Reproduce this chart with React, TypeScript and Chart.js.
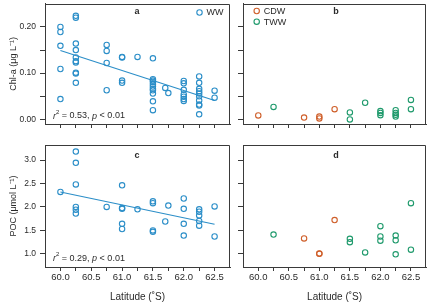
import React, { useEffect, useRef } from "react";
import { Chart, registerables } from "chart.js";

Chart.register(...registerables);

// ---- Winter Water (WW) stations: Chl-a ----
const wwChlLat = [
  60.0, 60.0, 60.0, 60.0, 60.0,
  60.25, 60.25, 60.25, 60.25, 60.25, 60.25, 60.25, 60.25, 60.25, 60.25,
  60.75, 60.75, 60.75, 60.75,
  61.0, 61.0, 61.0, 61.0,
  61.25,
  61.5, 61.5, 61.5, 61.5, 61.5, 61.5, 61.5, 61.5, 61.5, 61.5, 61.5,
  61.7, 61.75,
  62.0, 62.0, 62.0, 62.0, 62.0, 62.0, 62.0,
  62.25, 62.25, 62.25, 62.25, 62.25, 62.25, 62.25, 62.25, 62.25, 62.25,
  62.5, 62.5,
];
const wwChl = [
  0.2, 0.189, 0.159, 0.109, 0.044,
  0.224, 0.22, 0.164, 0.15, 0.134, 0.126, 0.123, 0.101, 0.099, 0.079,
  0.161, 0.148, 0.122, 0.063,
  0.135, 0.134, 0.084, 0.079,
  0.135,
  0.132, 0.087, 0.084, 0.081, 0.076, 0.071, 0.066, 0.063, 0.056, 0.039, 0.02,
  0.068, 0.057,
  0.083, 0.078, 0.064, 0.054, 0.049, 0.044, 0.04,
  0.093, 0.079, 0.066, 0.061, 0.056, 0.05, 0.041, 0.032, 0.03, 0.011,
  0.062, 0.047,
];

// ---- WW stations: POC ----
const wwPocLat = [
  60.0,
  60.25, 60.25, 60.25, 60.25, 60.25, 60.25,
  60.75,
  61.0, 61.0, 61.0, 61.0, 61.0,
  61.25,
  61.5, 61.5, 61.5, 61.5,
  61.7, 61.75,
  62.0, 62.0, 62.0, 62.0,
  62.25, 62.25, 62.25, 62.25, 62.25,
  62.5, 62.5,
];
const wwPoc = [
  2.32,
  3.18, 2.94, 2.48, 2.0, 1.94, 1.86,
  2.0,
  2.46, 1.975, 1.96, 1.64, 1.53,
  1.95,
  2.12, 2.08, 1.5, 1.47,
  1.69, 2.03,
  2.18, 1.96, 1.64, 1.39,
  1.95, 1.9, 1.82, 1.7, 1.6,
  2.01, 1.37,
];

// ---- Circumpolar Deep Water (CDW) stations ----
const cdwChlLat = [60.0, 60.75, 61.0, 61.0, 61.25];
const cdwChl = [0.0086, 0.004, 0.006, 0.002, 0.022];
const cdwPocLat = [60.75, 61.0, 61.0, 61.25];
const cdwPoc = [1.33, 1.01, 1.0, 1.72];

// ---- Transitional Weddell Water (TWW) stations ----
const twwChlLat = [
  60.25, 61.5, 61.5, 61.75, 62.0, 62.0, 62.0,
  62.25, 62.25, 62.25, 62.25, 62.5, 62.5,
];
const twwChl = [
  0.027, 0.015, 0.0, 0.036, 0.018, 0.014, 0.009,
  0.02, 0.014, 0.01, 0.006, 0.042, 0.022,
];
const twwPocLat = [
  60.25, 61.5, 61.5, 61.75, 62.0, 62.0, 62.0,
  62.25, 62.25, 62.25, 62.5, 62.5,
];
const twwPoc = [
  1.41, 1.32, 1.25, 1.03, 1.59, 1.37, 1.28,
  1.39, 1.29, 0.99, 1.09, 2.08,
];

// ---- Linear fits for WW ----
const trendLat = [60.0, 62.5];
const chlTrend = [0.149, 0.041];
const pocTrend = [2.32, 1.63];

// ---- Axis ticks ----
const latTicks = [60.0, 60.25, 60.5, 60.75, 61.0, 61.25, 61.5, 61.75, 62.0, 62.25, 62.5];
const chlTicks = [0.0, 0.05, 0.1, 0.15, 0.2];
const chlTickLabels = ["0.00", "", "0.10", "", "0.20"];
const pocTicks = [1.0, 1.5, 2.0, 2.5, 3.0];
const pocTickLabels = ["1.0", "1.5", "2.0", "2.5", "3.0"];

const WW_COLOR = "#2b8ec8";
const CDW_COLOR = "#cf5f2a";
const TWW_COLOR = "#1f9a6c";
const AXIS_COLOR = "#3a3a3a";
const TEXT_COLOR = "#2a2a2a";
const FONT = "'Liberation Sans', Arial, Helvetica, sans-serif";

const pts = (xs: number[], ys: number[]) => xs.map((x, i) => ({ x, y: ys[i] }));

const scatterSet = (label: string, xs: number[], ys: number[], color: string) => ({
  type: "scatter" as const,
  label,
  data: pts(xs, ys),
  borderColor: color,
  backgroundColor: "rgba(0,0,0,0)",
  pointRadius: 2.7,
  pointBorderWidth: 1.1,
  pointHoverRadius: 2.7,
  showLine: false,
});

const trendSet = (ys: number[]) => ({
  type: "scatter" as const,
  label: "fit",
  data: pts(trendLat, ys),
  borderColor: WW_COLOR,
  borderWidth: 1.1,
  pointRadius: 0,
  showLine: true,
});

// Panel letter, statistics text, in-plot legend and the top/right frame.
const panelDecor = {
  id: "panelDecor",
  afterDraw(chart: any) {
    const o = chart.options.plugins.panelDecor || {};
    const { ctx, chartArea: a } = chart;
    ctx.save();
    ctx.strokeStyle = AXIS_COLOR;
    ctx.lineWidth = 1;
    ctx.beginPath();
    ctx.moveTo(Math.round(a.left), Math.round(a.top) + 0.5);
    ctx.lineTo(Math.round(a.right) - 0.5, Math.round(a.top) + 0.5);
    ctx.lineTo(Math.round(a.right) - 0.5, Math.round(a.bottom));
    ctx.stroke();

    ctx.fillStyle = TEXT_COLOR;
    ctx.textBaseline = "middle";
    if (o.letter) {
      ctx.font = `bold 9px ${FONT}`;
      ctx.textAlign = "center";
      ctx.fillText(o.letter, o.letterX, o.letterY);
    }
    if (o.r2) {
      let x = o.statX;
      const y = o.statY;
      ctx.textAlign = "left";
      const part = (t: string, font: string, dy = 0) => {
        ctx.font = font;
        ctx.fillText(t, x, y + dy);
        x += ctx.measureText(t).width;
      };
      part("r", `italic 9px ${FONT}`);
      part("2", `6px ${FONT}`, -3.5);
      part(` = ${o.r2}, `, `9px ${FONT}`);
      part("p", `italic 9px ${FONT}`);
      part(" < 0.01", `9px ${FONT}`);
    }
    if (o.legend) {
      ctx.textAlign = "left";
      ctx.font = `9px ${FONT}`;
      o.legend.forEach((it: any) => {
        ctx.strokeStyle = it.color;
        ctx.lineWidth = 1.1;
        ctx.beginPath();
        ctx.arc(it.x, it.y, 2.7, 0, Math.PI * 2);
        ctx.stroke();
        ctx.fillStyle = TEXT_COLOR;
        ctx.fillText(it.label, it.x + 7, it.y + 0.5);
      });
    }
    ctx.restore();
  },
};

type PanelSpec = {
  left: number;
  top: number;
  width: number;
  height: number;
  padTop: number;
  padRight: number;
  yWidth: number;
  xHeight: number;
  yMin: number;
  yMax: number;
  yTicks: number[];
  yLabels: string[] | null;
  yTitle: string | null;
  xLabels: boolean;
  datasets: any[];
  decor: any;
};

const clearScalePadding = (s: any) => {
  s.paddingTop = 0;
  s.paddingBottom = 0;
  s.paddingLeft = 0;
  s.paddingRight = 0;
};

function Panel({ spec }: { spec: PanelSpec }) {
  const ref = useRef<HTMLCanvasElement | null>(null);
  useEffect(() => {
    if (!ref.current) return;
    const chart = new Chart(ref.current, {
      type: "scatter",
      data: { datasets: spec.datasets },
      plugins: [panelDecor],
      options: {
        responsive: false,
        animation: false,
        events: [],
        layout: { padding: { top: spec.padTop, right: spec.padRight, left: 0, bottom: 0 } },
        plugins: {
          legend: { display: false },
          tooltip: { enabled: false },
          panelDecor: spec.decor,
        } as any,
        scales: {
          x: {
            type: "linear",
            min: 59.75,
            max: 62.75,
            afterBuildTicks: (s: any) => {
              s.ticks = latTicks.map((v) => ({ value: v }));
            },
            afterFit: (s: any) => {
              s.height = spec.xHeight;
              clearScalePadding(s);
            },
            ticks: {
              display: spec.xLabels,
              autoSkip: false,
              maxRotation: 0,
              padding: 1,
              color: TEXT_COLOR,
              font: { size: 9.5, family: FONT },
              callback: (v: any) => {
                const n = Number(v);
                return Math.abs(n * 2 - Math.round(n * 2)) < 1e-6 ? n.toFixed(1) : "";
              },
            },
            grid: { drawOnChartArea: false, drawTicks: true, tickLength: 4, color: AXIS_COLOR, lineWidth: 1 },
            border: { display: true, color: AXIS_COLOR, width: 1 },
            title: {
              display: spec.xLabels,
              text: "Latitude (˚S)",
              color: TEXT_COLOR,
              font: { size: 10, family: FONT },
              padding: { top: 0, bottom: 0 },
            },
          },
          y: {
            type: "linear",
            min: spec.yMin,
            max: spec.yMax,
            afterBuildTicks: (s: any) => {
              s.ticks = spec.yTicks.map((v) => ({ value: v }));
            },
            afterFit: (s: any) => {
              s.width = spec.yWidth;
              clearScalePadding(s);
            },
            ticks: {
              display: !!spec.yLabels,
              padding: 4,
              color: TEXT_COLOR,
              font: { size: 8.5, family: FONT },
              callback: (v: any) => {
                const i = spec.yTicks.findIndex((t) => Math.abs(t - Number(v)) < 1e-9);
                return spec.yLabels && i >= 0 ? spec.yLabels[i] : "";
              },
            },
            grid: { drawOnChartArea: false, drawTicks: true, tickLength: 5, color: AXIS_COLOR, lineWidth: 1 },
            border: { display: true, color: AXIS_COLOR, width: 1 },
            title: {
              display: !!spec.yTitle,
              text: spec.yTitle || "",
              color: TEXT_COLOR,
              font: { size: 9, family: FONT },
              padding: { top: 8, bottom: 0 },
            },
          },
        },
      } as any,
    });
    return () => chart.destroy();
  }, [spec]);

  return (
    <canvas
      ref={ref}
      width={spec.width}
      height={spec.height}
      style={{ position: "absolute", left: spec.left, top: spec.top, width: spec.width, height: spec.height }}
    />
  );
}

const panels: PanelSpec[] = [
  {
    left: 0, top: 0, width: 236, height: 140,
    padTop: 2, padRight: 6, yWidth: 45, xHeight: 16,
    yMin: -0.01, yMax: 0.25, yTicks: chlTicks, yLabels: chlTickLabels,
    yTitle: "Chl-a (μg L⁻¹)", xLabels: false,
    datasets: [trendSet(chlTrend), scatterSet("WW", wwChlLat, wwChl, WW_COLOR)],
    decor: {
      letter: "a", letterX: 137, letterY: 12,
      r2: "0.53", statX: 53, statY: 116,
      legend: [{ label: "WW", color: WW_COLOR, x: 199.5, y: 12.5 }],
    },
  },
  {
    left: 236, top: 0, width: 194, height: 140,
    padTop: 2, padRight: 2, yWidth: 7, xHeight: 16,
    yMin: -0.01, yMax: 0.25, yTicks: chlTicks, yLabels: null,
    yTitle: null, xLabels: false,
    datasets: [
      scatterSet("CDW", cdwChlLat, cdwChl, CDW_COLOR),
      scatterSet("TWW", twwChlLat, twwChl, TWW_COLOR),
    ],
    decor: {
      letter: "b", letterX: 100, letterY: 12,
      legend: [
        { label: "CDW", color: CDW_COLOR, x: 20.7, y: 11 },
        { label: "TWW", color: TWW_COLOR, x: 20.7, y: 21.7 },
      ],
    },
  },
  {
    left: 0, top: 140, width: 236, height: 163,
    padTop: 5, padRight: 6, yWidth: 45, xHeight: 36,
    yMin: 0.72, yMax: 3.32, yTicks: pocTicks, yLabels: pocTickLabels,
    yTitle: "POC (μmol L⁻¹)", xLabels: true,
    datasets: [trendSet(pocTrend), scatterSet("WW", wwPocLat, wwPoc, WW_COLOR)],
    decor: {
      letter: "c", letterX: 137, letterY: 15.7,
      r2: "0.29", statX: 53, statY: 118.3,
    },
  },
  {
    left: 236, top: 140, width: 194, height: 163,
    padTop: 5, padRight: 2, yWidth: 7, xHeight: 36,
    yMin: 0.72, yMax: 3.32, yTicks: pocTicks, yLabels: null,
    yTitle: null, xLabels: true,
    datasets: [
      scatterSet("CDW", cdwPocLat, cdwPoc, CDW_COLOR),
      scatterSet("TWW", twwPocLat, twwPoc, TWW_COLOR),
    ],
    decor: { letter: "d", letterX: 100, letterY: 15.7 },
  },
];

export default function App() {
  return (
    <div style={{ position: "fixed", left: 0, top: 0, width: 430, height: 303, background: "#fff" }}>
      {panels.map((p, i) => (
        <Panel key={i} spec={p} />
      ))}
    </div>
  );
}
